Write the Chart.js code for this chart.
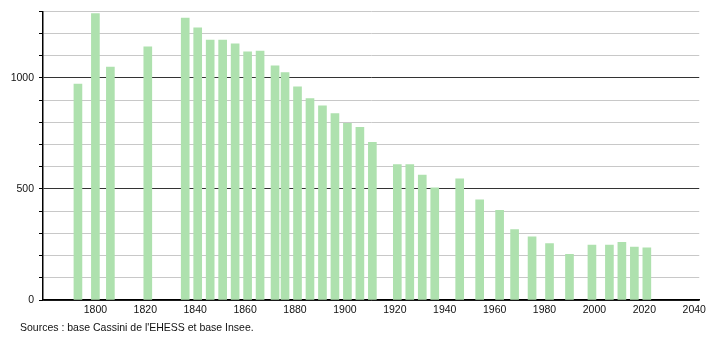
<!DOCTYPE html>
<html>
<head>
<meta charset="utf-8">
<script src="https://cdn.jsdelivr.net/npm/chart.js@4.4.0/dist/chart.umd.min.js"></script>
<style>
    body { margin: 0; background: #fff; }
    #wrap { position: relative; width: 710px; height: 340px; }
    #sources { position: absolute; left: 20px; top: 321px; font: 10.5px "Liberation Sans", Arial, sans-serif; color: #111; }
</style>
</head>
<body>
<div id="wrap">
    <canvas id="chart" width="710" height="340"></canvas>
    <div id="sources">Sources : base Cassini de l'EHESS et base Insee.</div>
</div>
<script>

// census years and population
var years = [1793, 1800, 1806, 1821, 1836, 1841, 1846, 1851, 1856, 1861, 1866, 1872, 1876, 1881, 1886, 1891, 1896, 1901, 1906, 1911,
             1921, 1926, 1931, 1936, 1946, 1954, 1962, 1968, 1975, 1982, 1990, 1999, 2006, 2011, 2016, 2021];
var population = [972, 1290, 1049, 1140, 1270, 1226, 1170, 1170, 1153, 1117, 1121, 1054, 1024, 960, 907, 874, 840, 795, 777, 710,
                  610, 610, 563, 505, 546, 451, 404, 317, 284, 254, 206, 247, 247, 260, 238, 235];

var xTicks = [1800, 1820, 1840, 1860, 1880, 1900, 1920, 1940, 1960, 1980, 2000, 2020, 2040];
var yLabels = [0, 500, 1000];

var points = [];
for (var i = 0; i < years.length; i++) {
    points.push({x: years[i], y: population[i]});
}

var ctx = document.getElementById('chart');
var chart = new Chart(ctx, {
    type: 'bar',
    data: {
        datasets: [{
            data: points,
            backgroundColor: 'rgb(174,225,174)',
            borderWidth: 0,
            barThickness: 8
        }]
    },
    options: {
        responsive: false,
        animation: false,
        layout: { padding: { top: 10, right: 10, left: 0, bottom: 0 } },
        plugins: { legend: { display: false }, tooltip: { enabled: false } },
        scales: {
            x: {
                type: 'linear',
                offset: false,
                min: 1779,
                max: 2042,
                afterBuildTicks: function(scale) {
                    scale.ticks = xTicks.map(function(v) { return {value: v}; });
                },
                afterFit: function(scale) { scale.height = 40; },
                grid: { display: false, drawTicks: false, offset: false },
                border: { display: true, color: '#000', width: 1.5 },
                ticks: {
                    padding: 4,
                    maxRotation: 0,
                    autoSkip: false,
                    color: '#111',
                    font: { family: 'Liberation Sans', size: 10.5 },
                    callback: function(v) { return String(v); }
                }
            },
            y: {
                min: 0,
                max: 1300,
                afterFit: function(scale) { scale.width = 43; },
                grid: {
                    color: function(c) { return c.tick.value % 500 === 0 ? '#333' : '#c8c8c8'; },
                    tickColor: '#000',
                    tickLength: 4,
                    lineWidth: 1
                },
                border: { display: true, color: '#000', width: 1.5 },
                ticks: {
                    stepSize: 100,
                    padding: 5,
                    autoSkip: false,
                    color: '#111',
                    font: { family: 'Liberation Sans', size: 10.5 },
                    callback: function(v) { return yLabels.indexOf(v) >= 0 ? String(v) : ''; }
                }
            }
        }
    }
});
</script>
</body>
</html>
